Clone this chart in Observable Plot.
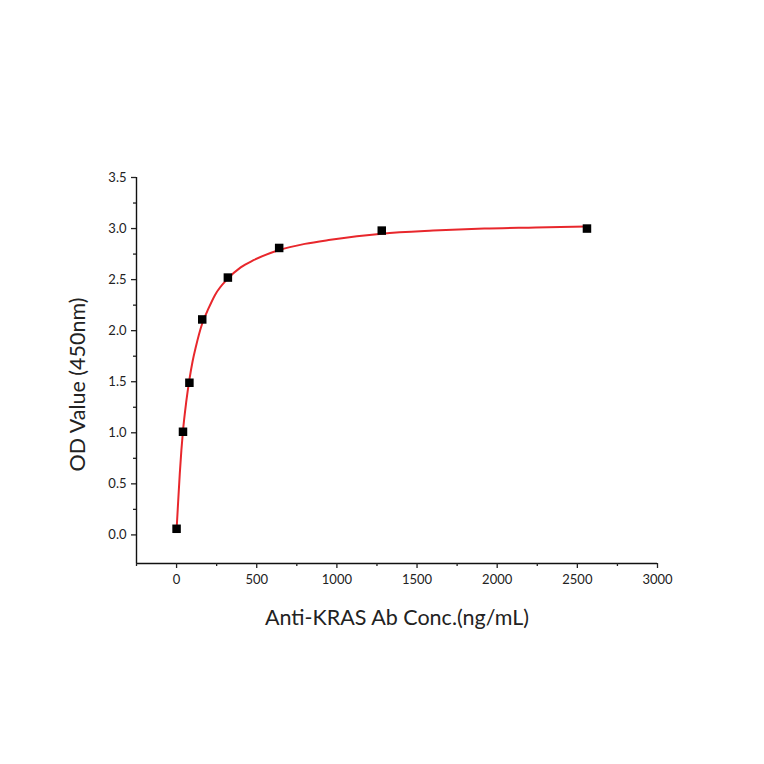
<!DOCTYPE html>
<html>
<head>
<meta charset="utf-8">
<script src="https://cdn.jsdelivr.net/npm/d3@7"></script>
<script src="https://cdn.jsdelivr.net/npm/@observablehq/plot@0.6"></script>
<style>
  html, body { margin: 0; padding: 0; background: #fff; }
  #chart { width: 764px; height: 764px; }
</style>
</head>
<body>
<div id="chart"></div>
<script>
// Measured points
const conc = [0, 40, 80, 160, 320, 640, 1280, 2560];
const od = [0.06, 1.01, 1.49, 2.11, 2.52, 2.81, 2.98, 3.0];

// Fitted curve
const curveX = [0, 10, 20, 30, 40, 60, 80, 100, 120, 160, 200, 240, 320, 400, 480, 640, 800, 960, 1280, 1600, 1920, 2240, 2560];
const curveY = [0.05, 0.33, 0.6, 0.83, 1.02, 1.30, 1.52, 1.70, 1.84, 2.07, 2.22, 2.35, 2.51, 2.62, 2.69, 2.79, 2.85, 2.89, 2.95, 2.98, 3.0, 3.01, 3.02];

const xMajor = [0, 500, 1000, 1500, 2000, 2500, 3000];
const xMinor = [-250, 250, 750, 1250, 1750, 2250, 2750];
const yMajor = [0, 0.5, 1.0, 1.5, 2.0, 2.5, 3.0, 3.5];
const yMinor = [0.25, 0.75, 1.25, 1.75, 2.25, 2.75, 3.25];

const xTitle = "Anti-KRAS Ab Conc.(ng/mL)";
const yTitle = "OD Value (450nm)";

const points = conc.map((c, i) => ({x: c, y: od[i]}));
const fit = curveX.map((c, i) => ({x: c, y: curveY[i]}));

const xMin = -250, xMax = 3000, yMin = -0.28, yMax = 3.5;

const chart = Plot.plot({
  width: 764,
  height: 764,
  marginLeft: 136,
  marginRight: 107,
  marginTop: 177,
  marginBottom: 201,
  style: {fontFamily: "Lato, 'Open Sans', sans-serif", color: "#222", background: "#fff"},
  x: {domain: [xMin, xMax]},
  y: {domain: [yMin, yMax]},
  marks: [
    Plot.ruleX([xMin], {y1: yMin, y2: yMax, stroke: "#111", strokeWidth: 1.4}),
    Plot.ruleY([yMin], {x1: xMin, x2: xMax, stroke: "#111", strokeWidth: 1.4}),
    Plot.axisX({ticks: xMajor, tickSize: 5, tickPadding: 6, fontSize: 13, tickFormat: d => String(d), label: null, strokeWidth: 1.3}),
    Plot.axisX({ticks: xMinor, tickSize: 3, tickFormat: null, text: null, label: null, strokeWidth: 1.3}),
    Plot.axisY({ticks: yMajor, tickSize: 5, tickPadding: 5, fontSize: 13, tickFormat: d3.format(".1f"), label: null, strokeWidth: 1.3}),
    Plot.axisY({ticks: yMinor, tickSize: 3, tickFormat: null, text: null, label: null, strokeWidth: 1.3}),
    Plot.line(fit, {x: "x", y: "y", stroke: "#e8272c", strokeWidth: 2, curve: "monotone-x"}),
    Plot.dot(points, {x: "x", y: "y", symbol: "square", r: 4.8, fill: "#000", stroke: "none"}),
    Plot.text([xTitle], {frameAnchor: "bottom", textAnchor: "middle", lineAnchor: "middle", dy: 55, fontSize: 21.5, fill: "#222"}),
    Plot.text([yTitle], {frameAnchor: "left", textAnchor: "middle", lineAnchor: "middle", dx: -58, dy: 14, rotate: -90, fontSize: 21.5, fill: "#222"})
  ]
});
document.getElementById("chart").appendChild(chart);
</script>
</body>
</html>
